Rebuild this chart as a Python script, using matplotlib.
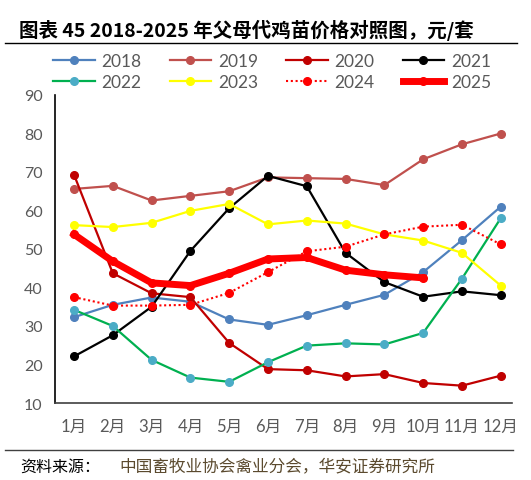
import matplotlib
matplotlib.use('Agg')
import matplotlib.pyplot as plt
from matplotlib.lines import Line2D

plt.rcParams['font.family'] = ['Lato', 'Noto Sans CJK SC', 'DejaVu Sans']

months = ['1月', '2月', '3月', '4月', '5月', '6月', '7月', '8月', '9月', '10月', '11月', '12月']
years = ['2018', '2019', '2020', '2021', '2022', '2023', '2024', '2025']

p2018 = [32.3, 35.5, 37.4, 36.3, 31.7, 30.3, 32.8, 35.5, 38.1, 44.0, 52.3, 61.0]
p2019 = [65.6, 66.4, 62.6, 63.8, 65.0, 68.6, 68.4, 68.2, 66.6, 73.3, 77.2, 80.0]
p2020 = [69.3, 43.7, 38.5, 37.5, 25.6, 18.8, 18.5, 16.9, 17.5, 15.2, 14.5, 17.1]
p2021 = [22.1, 27.6, 35.0, 49.5, 60.6, 69.0, 66.3, 49.0, 41.4, 37.6, 39.0, 38.0]
p2022 = [34.2, 30.0, 21.2, 16.6, 15.5, 20.6, 24.9, 25.5, 25.2, 28.2, 42.3, 58.0]
p2023 = [56.2, 55.7, 56.8, 59.9, 61.7, 56.4, 57.4, 56.6, 53.8, 52.2, 49.0, 40.5]
p2024 = [37.5, 35.3, 35.3, 35.5, 38.6, 44.0, 49.4, 50.6, 53.8, 55.8, 56.3, 51.2]
p2025 = [53.8, 46.8, 41.2, 40.5, 43.7, 47.4, 47.8, 44.5, 43.3, 42.5]

series = [p2018, p2019, p2020, p2021, p2022, p2023, p2024, p2025]
# (line colour, marker colour, linestyle, linewidth, markersize)
styles = [
    ('#4f81bd', '#4f81bd', '-', 1.6, 5.5),
    ('#c0504d', '#c0504d', '-', 1.6, 5.5),
    ('#c00000', '#c00000', '-', 1.6, 5.5),
    ('#000000', '#000000', '-', 1.6, 5.5),
    ('#00b050', '#4bacc6', '-', 1.6, 5.5),
    ('#ffff00', '#ffff00', '-', 1.6, 5.5),
    ('#ff0000', '#ff0000', (0, (1, 1.3)), 1.5, 5.5),
    ('#ff0000', '#ff0000', '-', 5.0, 5.5),
]

fig = plt.figure(figsize=(5.31, 4.81), dpi=100)
ax = fig.add_axes([55 / 531, 1 - 404 / 481, 457 / 531, 308 / 481])

handles = []
for name, vals, (lc, mc, ls, lw, ms) in zip(years, series, styles):
    x = list(range(len(vals)))
    h, = ax.plot(x, vals, color=lc, linestyle=ls, linewidth=lw, marker='o',
                 markersize=ms, markerfacecolor=mc, markeredgecolor=mc,
                 label=name, zorder=5 if name == '2025' else 3)
    handles.append(h)

ax.set_xlim(-0.49, 11.29)
ax.set_ylim(10, 90)
ax.set_yticks(range(10, 91, 10))
ax.set_xticks(range(12))
ax.set_xticklabels(months)
ax.tick_params(axis='both', length=0, labelcolor='#595959')
ax.tick_params(axis='y', pad=9, labelsize=11.5)
ax.tick_params(axis='x', pad=11, labelsize=12)
for s in ['top', 'right']:
    ax.spines[s].set_visible(False)
ax.spines['left'].set_color('#000000')
ax.spines['bottom'].set_color('#404040')
ax.spines['left'].set_linewidth(1.2)
ax.spines['bottom'].set_linewidth(1.2)

# legend is filled column by column, so reorder to read row by row
order = [0, 4, 1, 5, 2, 6, 3, 7]
leg = fig.legend([handles[i] for i in order], [years[i] for i in order],
                 loc='upper left', bbox_to_anchor=(53 / 531, 1 - 54 / 481), ncol=4,
                 frameon=False, fontsize=12.5, handlelength=2.4, handletextpad=0.4,
                 columnspacing=1.6, labelspacing=0.3, borderaxespad=0, borderpad=0)
for t in leg.get_texts():
    t.set_color('#595959')

fig.text(19 / 531, 1 - 30 / 481, '图表 45 2018-2025 年父母代鸡苗价格对照图，元/套',
         fontsize=14, fontweight='bold', va='center', ha='left',
         family=['Noto Sans CJK SC'])
fig.add_artist(Line2D([5 / 531, 517 / 531], [1 - 44 / 481, 1 - 44 / 481],
                      color='black', linewidth=1.0))
fig.add_artist(Line2D([5 / 531, 513 / 531], [1 - 451 / 481, 1 - 451 / 481],
                      color='#404040', linewidth=1.0))
fig.text(20 / 531, 1 - 467 / 481, '资料来源：', fontsize=11.5, va='center',
         ha='left', color='black', family=['Noto Sans CJK SC'])
fig.text(119 / 531, 1 - 467 / 481, '中国畜牧业协会禽业分会，华安证券研究所', fontsize=12,
         va='center', ha='left', color='#5b4a2e', family=['Noto Sans CJK SC'])

fig.savefig('out.png', dpi=100)
